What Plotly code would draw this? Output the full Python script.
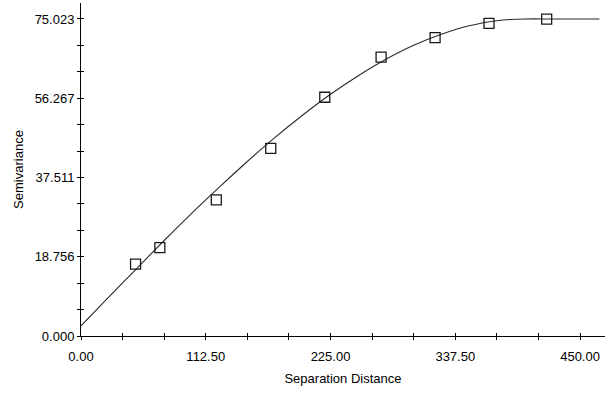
import plotly.graph_objects as go

# Experimental semivariogram (lag distance vs. semivariance)
lag_distance = [49.2, 71.1, 122.0, 171.1, 219.8, 270.6, 319.3, 367.9, 419.9]
semivariance = [17.0, 20.9, 32.2, 44.4, 56.5, 66.0, 70.6, 74.0, 75.0]

# Fitted model curve
model_distance = [0, 25, 50, 75, 100, 125, 150, 175, 200, 225, 250, 275,
                  300, 325, 350, 375, 387.5, 400, 425, 467.5]
model_value = [2.4, 9.2, 15.9, 22.6, 29.1, 35.3, 41.3, 47.0, 52.3, 57.2, 61.6,
               65.5, 68.8, 71.4, 73.4, 74.6, 74.9, 75.02, 75.023, 75.023]

# Axis ticks
x_tickvals = [0, 112.5, 225, 337.5, 450]
x_ticktext = ["0.00", "112.50", "225.00", "337.50", "450.00"]
y_tickvals = [0, 18.75575, 37.5115, 56.26725, 75.023]
y_ticktext = ["0.000", "18.756", "37.511", "56.267", "75.023"]

X_RANGE = [0, 472.5]
Y_RANGE = [0, 78.8]
FONT = "Liberation Sans, Arial, sans-serif"
FONT_SIZE = 13
INK = "#000000"

fig = go.Figure()

fig.add_trace(go.Scatter(
    x=model_distance, y=model_value, mode="lines",
    line=dict(color="#2a2a2a", width=1.1, shape="spline", smoothing=0.8),
    hoverinfo="skip", showlegend=False,
))
fig.add_trace(go.Scatter(
    x=lag_distance, y=semivariance, mode="markers",
    marker=dict(symbol="square-open", size=10, color="#1a1a1a",
                line=dict(width=1.3, color="#1a1a1a")),
    showlegend=False,
))
# invisible trace carrying the overlay axes (inner half of crossing ticks)
fig.add_trace(go.Scatter(
    x=[None], y=[None], xaxis="x2", yaxis="y2", mode="markers",
    showlegend=False, hoverinfo="skip",
))

common_tick = dict(ticklen=3, tickwidth=1, tickcolor=INK)
text_font = dict(family=FONT, size=FONT_SIZE, color=INK)

fig.update_layout(
    width=615, height=394,
    margin=dict(l=81, r=10, t=3, b=58),
    paper_bgcolor="white", plot_bgcolor="white",
    font=text_font,
    xaxis=dict(
        range=X_RANGE, showgrid=False, zeroline=False,
        showline=True, linecolor=INK, linewidth=1,
        ticks="outside", tickvals=x_tickvals, ticktext=x_ticktext,
        minor=dict(ticks="outside", dtick=37.5, tick0=0, **common_tick),
        tickfont=text_font, ticklabelstandoff=5,
        title=dict(text="Separation Distance", standoff=11, font=text_font),
        **common_tick,
    ),
    yaxis=dict(
        range=Y_RANGE, showgrid=False, zeroline=False,
        showline=True, linecolor=INK, linewidth=1,
        ticks="outside", tickvals=y_tickvals, ticktext=y_ticktext,
        minor=dict(ticks="outside", dtick=75.023 / 12, tick0=0, **common_tick),
        tickfont=text_font,
        title=dict(text="Semivariance", standoff=8, font=text_font),
        **common_tick,
    ),
    xaxis2=dict(
        range=X_RANGE, overlaying="x", anchor="y", showgrid=False,
        zeroline=False, showline=False, showticklabels=False,
        ticks="inside", tickvals=x_tickvals,
        minor=dict(ticks="inside", dtick=37.5, tick0=0, **common_tick),
        **common_tick,
    ),
    yaxis2=dict(
        range=Y_RANGE, overlaying="y", anchor="x", showgrid=False,
        zeroline=False, showline=False, showticklabels=False,
        ticks="inside", tickvals=y_tickvals,
        minor=dict(ticks="inside", dtick=75.023 / 12, tick0=0, **common_tick),
        **common_tick,
    ),
)

fig.write_html("out.html")
